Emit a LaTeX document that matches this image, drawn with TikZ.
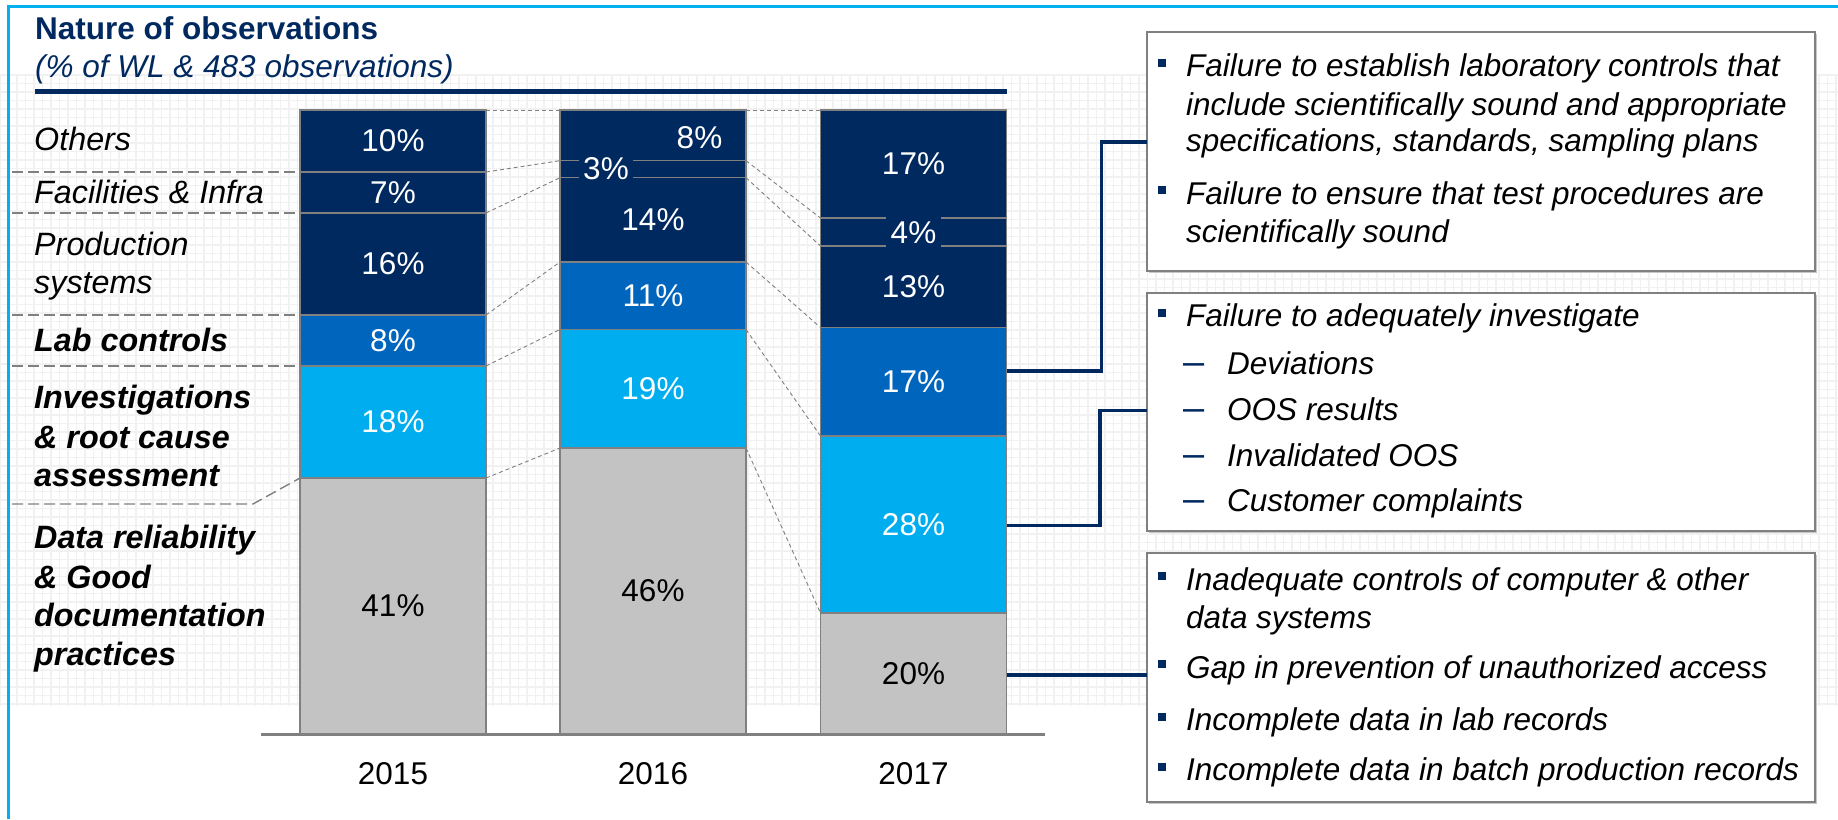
\documentclass[tikz,border=0pt]{standalone}
\usepackage{fontspec}
\setmainfont{Liberation Sans}
\usetikzlibrary{calc,shadows}
\definecolor{navy}{RGB}{0,41,96}
\definecolor{labblue}{RGB}{0,101,189}
\definecolor{invcyan}{RGB}{0,174,239}
\definecolor{datgray}{RGB}{195,195,195}
\definecolor{sepgray}{RGB}{128,128,128}
\definecolor{gridgray}{RGB}{241,241,241}
\definecolor{framecyan}{RGB}{0,176,240}
\newcommand\fsz{\fontsize{31.5}{38}\selectfont}
\newcommand\fszl{\fontsize{32.3}{39}\selectfont}
\newcommand\seg[5]{\pgfmathsetmacro\segh{#4-#3}\node[segbox, fill=#5, minimum height=\segh pt] (#1) at (#2,#3) {};}
\newcommand\txtline[4]{\node[txtstyle] (#1) at (#2,#3) {#4};}
\newcommand\lline[4]{\node[txtstyle, font=\fszl] (#1) at (#2,#3) {#4};}
\newcommand\bul[3]{\node[bulsq] (#1) at (#2,#3) {};}
\begin{document}
\begin{tikzpicture}[x=1pt,y=-1pt,
  every node/.style={font=\fsz},
  segbox/.style={draw=sepgray, line width=1.5pt, inner sep=0pt, outer sep=0pt, minimum width=186pt, anchor=north west},
  pct/.style={text=white, inner sep=0pt},
  pctdark/.style={text=black, inner sep=0pt},
  pctcut/.style={text=white, fill=navy, inner xsep=4.5pt, inner ysep=6pt},
  txtstyle/.style={anchor=base west, inner sep=0pt},
  bulsq/.style={fill=navy, inner sep=0pt, minimum size=8pt},
  infobox/.style={draw=sepgray, line width=2pt, fill=white, inner sep=0pt, outer sep=0pt, anchor=north west, minimum width=668pt,
     drop shadow={shadow xshift=2pt, shadow yshift=-2pt, fill=black!22, opacity=1}},
  gridline/.style={gridgray, line width=1.4pt},
  ldash/.style={sepgray, line width=1.4pt, dash pattern=on 11pt off 5pt},
  bdash/.style={sepgray, line width=0.9pt, dash pattern=on 4pt off 3pt},
  conn/.style={navy, line width=3.5pt},
  yr/.style={inner sep=0pt}
]
\useasboundingbox (0,0) rectangle (1838,819);
\fill[white] (0,0) rectangle (1838,819);
% background grid
\foreach \i in {0,...,216} { \draw[gridline] (\i*8.5,75) -- (\i*8.5,706); }
\foreach \j in {0,...,74} { \draw[gridline] (0,75+\j*8.5) -- (1838,75+\j*8.5); }
% frame
\draw[framecyan, line width=3.5pt] (8.5,819) -- (8.5,6.5) -- (1838,6.5);
% header
\node[txtstyle, text=navy, font=\fsz\bfseries] (title) at (35,39.3) {Nature of observations};
\node[txtstyle, text=navy, font=\fsz\itshape] (subtitle) at (35,77.7) {(\% of WL \& 483 observations)};
\draw[navy, line width=5pt] (35,91) -- (1006.5,91);
% left category labels
\lline{lo}{34}{150}{\itshape Others}
\lline{lf}{34}{203.3}{\itshape Facilities \& Infra}
\lline{lp1}{34}{255}{\itshape Production}
\lline{lp2}{34}{293}{\itshape systems}
\lline{ll}{34}{351.7}{\bfseries\itshape Lab controls}
\lline{li1}{34}{408.3}{\bfseries\itshape Investigations}
\lline{li2}{34}{448.3}{\bfseries\itshape \& root cause}
\lline{li3}{34}{486.7}{\bfseries\itshape assessment}
\lline{ld1}{34}{548.3}{\bfseries\itshape Data reliability}
\lline{ld2}{34}{588.3}{\bfseries\itshape \& Good}
\lline{ld3}{34}{626.7}{\bfseries\itshape documentation}
\lline{ld4}{34}{665}{\bfseries\itshape practices}
% bars
\seg{b15oth}{300}{110}{172}{navy}
\seg{b15fac}{300}{172}{213}{navy}
\seg{b15prod}{300}{213}{315}{navy}
\seg{b15lab}{300}{315}{366}{labblue}
\seg{b15inv}{300}{366}{478}{invcyan}
\seg{b15dat}{300}{478}{734}{datgray}
\seg{b16oth}{560}{110}{160.7}{navy}
\seg{b16fac}{560}{160.7}{177.7}{navy}
\seg{b16prod}{560}{177.7}{262}{navy}
\seg{b16lab}{560}{262}{329.5}{labblue}
\seg{b16inv}{560}{329.5}{448}{invcyan}
\seg{b16dat}{560}{448}{734}{datgray}
\seg{b17oth}{820.5}{110}{218}{navy}
\seg{b17fac}{820.5}{218}{246}{navy}
\seg{b17prod}{820.5}{246}{327.5}{navy}
\seg{b17lab}{820.5}{327.5}{436}{labblue}
\seg{b17inv}{820.5}{436}{613}{invcyan}
\seg{b17dat}{820.5}{613}{734}{datgray}
% left dashed guides
\coordinate (g1) at (12,172);
\coordinate (g2) at (12,213);
\coordinate (g3) at (12,315);
\coordinate (g4) at (12,366);
\coordinate (g5) at (12,504);
\coordinate (g5b) at (253,504);
\draw[ldash] (g1) -- (b15oth.south west);
\draw[ldash] (g2) -- (b15fac.south west);
\draw[ldash] (g3) -- (b15prod.south west);
\draw[ldash] (g4) -- (b15lab.south west);
\draw[ldash] (g5) -- (g5b) -- (b15inv.south west);
% bar-to-bar dashed
\draw[bdash] (b15oth.north east) -- (b16oth.north west);
\draw[bdash] (b16oth.north east) -- (b17oth.north west);
\foreach \c in {oth,fac,prod,lab,inv} {
  \draw[bdash] (b15\c.south east) -- (b16\c.south west);
  \draw[bdash] (b16\c.south east) -- (b17\c.south west);
}
% percentages
\node[pct] (p15a) at (b15oth) {10\%};
\node[pct] (p15b) at (b15fac) {7\%};
\node[pct] (p15c) at (b15prod) {16\%};
\node[pct] (p15d) at (b15lab) {8\%};
\node[pct] (p15e) at (b15inv) {18\%};
\node[pctdark] (p15f) at (b15dat) {41\%};
\node[pct] (p16a) at (699.5,137.5) {8\%};
\node[pctcut] (p16b) at (606,169) {3\%};
\node[pct] (p16c) at (b16prod) {14\%};
\node[pct] (p16d) at (b16lab) {11\%};
\node[pct] (p16e) at (b16inv) {19\%};
\node[pctdark] (p16f) at (b16dat) {46\%};
\node[pct] (p17a) at (b17oth) {17\%};
\node[pctcut, inner xsep=5pt] (p17b) at (913.5,233) {4\%};
\node[pct] (p17c) at (b17prod) {13\%};
\node[pct] (p17d) at (b17lab) {17\%};
\node[pct] (p17e) at (b17inv) {28\%};
\node[pctdark] (p17f) at (b17dat) {20\%};
% axis and years
\draw[sepgray, line width=3pt] (261,734) -- (1045,734);
\node[yr] (y15) at (393,773.7) {2015};
\node[yr] (y16) at (653,773.7) {2016};
\node[yr] (y17) at (913.5,773.7) {2017};
% boxes
\node[infobox, minimum height=239pt] (box1) at (1147,32) {};
\node[infobox, minimum height=238.3pt] (box2) at (1147,292.7) {};
\node[infobox, minimum height=249pt] (box3) at (1147,553) {};
% connectors
\coordinate (k1a) at (1101.5,371);
\coordinate (k1b) at (1101.5,142);
\draw[conn] (b17lab.east |- k1a) -- (k1a) -- (k1b) -- (box1.west |- k1b);
\coordinate (k2a) at (1100,525.7);
\coordinate (k2b) at (1100,410.3);
\draw[conn] (b17inv.east |- k2a) -- (k2a) -- (k2b) -- (box2.west |- k2b);
\coordinate (k3) at (1100,675);
\draw[conn] (b17dat.east |- k3) -- (box3.west |- k3);
% box 1 text
\bul{q1}{1162}{62.7}
\txtline{t1a}{1186}{76.7}{\itshape Failure to establish laboratory controls that}
\txtline{t1b}{1186}{115}{\itshape include scientifically sound and appropriate}
\txtline{t1c}{1186}{151.7}{\itshape specifications, standards, sampling plans}
\bul{q2}{1162}{190}
\txtline{t1d}{1186}{204}{\itshape Failure to ensure that test procedures are}
\txtline{t1e}{1186}{242.7}{\itshape scientifically sound}
% box 2 text
\bul{q3}{1162}{312.7}
\txtline{t2a}{1186}{326.7}{\itshape Failure to adequately investigate}
\txtline{d1}{1183}{374}{\color{navy}\fontsize{38}{38}\selectfont–}
\txtline{t2b}{1227}{374}{\itshape Deviations}
\txtline{d2}{1183}{420}{\color{navy}\fontsize{38}{38}\selectfont–}
\txtline{t2c}{1227}{420}{\itshape OOS results}
\txtline{d3}{1183}{466}{\color{navy}\fontsize{38}{38}\selectfont–}
\txtline{t2d}{1227}{466}{\itshape Invalidated OOS}
\txtline{d4}{1183}{511.7}{\color{navy}\fontsize{38}{38}\selectfont–}
\txtline{t2e}{1227}{511.7}{\itshape Customer complaints}
% box 3 text
\bul{q4}{1162}{576}
\txtline{t3a}{1186}{590}{\itshape Inadequate controls of computer \& other}
\txtline{t3b}{1186}{628.3}{\itshape data systems}
\bul{q5}{1162}{664.3}
\txtline{t3c}{1186}{678.3}{\itshape Gap in prevention of unauthorized access}
\bul{q6}{1162}{716.7}
\txtline{t3d}{1186}{730.7}{\itshape Incomplete data in lab records}
\bul{q7}{1162}{766.7}
\txtline{t3e}{1186}{780.7}{\itshape Incomplete data in batch production records}
\end{tikzpicture}
\end{document}
